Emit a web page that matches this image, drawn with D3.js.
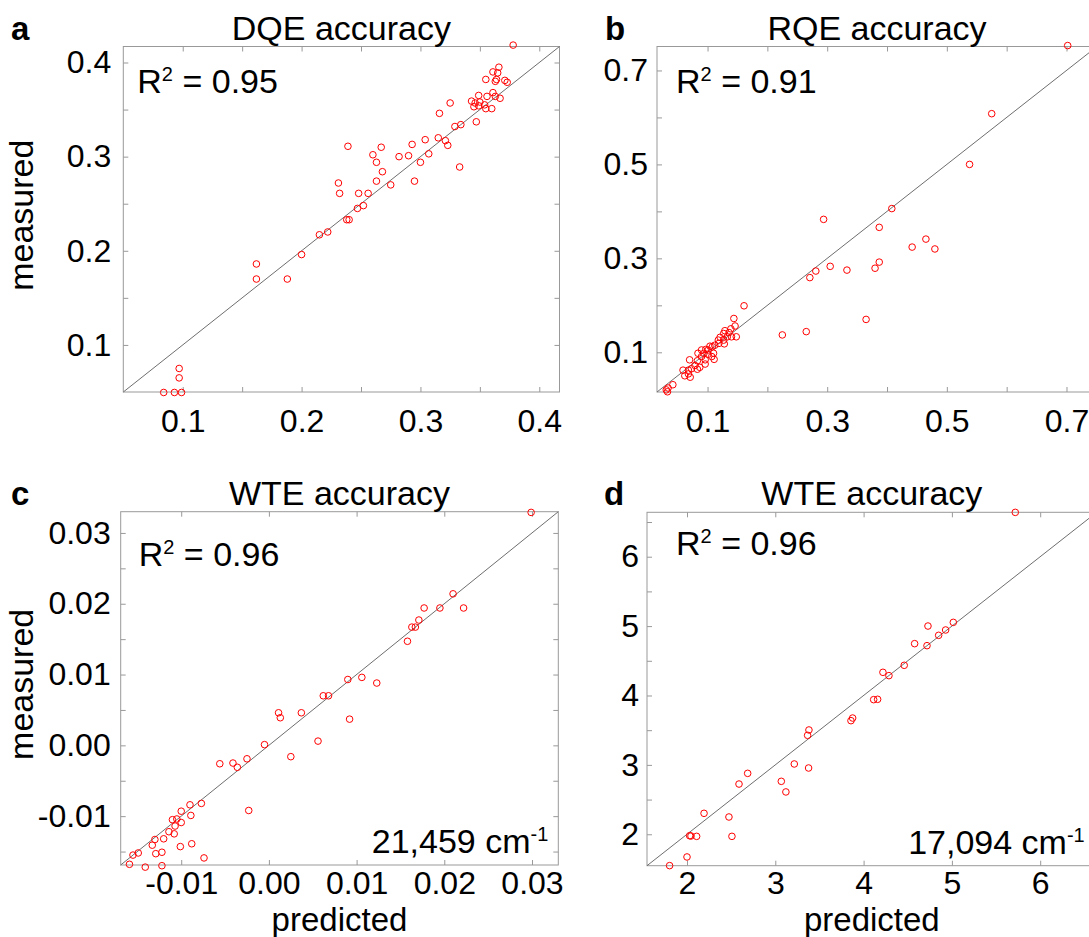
<!DOCTYPE html>
<html>
<head>
<meta charset="utf-8">
<script src="https://cdn.jsdelivr.net/npm/d3@7"></script>
<style>
body { margin: 0; background: #fff; }
svg text { font-family: "Liberation Sans", Arial, sans-serif; fill: #000; }
</style>
</head>
<body>
<div id="dataviz"></div>
<script>
// ---- data ----
// a: DQE
var dqePred = [0.378,0.366,0.361,0.365,0.355,0.363,0.364,0.371,0.373,0.349,0.356,0.361,0.363,0.367,0.343,0.345,0.346,0.350,0.349,0.354,0.355,0.360,0.347,0.325,0.316,0.329,0.334,0.315,0.321,0.323,0.304,0.307,0.293,0.282,0.290,0.300,0.333,0.295,0.275,0.239,0.267,0.260,0.263,0.268,0.263,0.231,0.232,0.248,0.256,0.247,0.252,0.238,0.240,0.215,0.222,0.200,0.162,0.162,0.188,0.097,0.097,0.084,0.093,0.099];
var dqeMeas = [0.4185,0.395,0.390,0.389,0.382,0.380,0.382,0.381,0.379,0.365,0.364,0.368,0.364,0.362,0.359,0.353,0.357,0.358,0.354,0.355,0.351,0.351,0.337,0.357,0.346,0.332,0.334,0.320,0.317,0.312,0.318,0.303,0.313,0.300,0.301,0.294,0.289,0.274,0.270,0.311,0.310,0.302,0.294,0.284,0.274,0.272,0.261,0.261,0.261,0.245,0.248,0.233,0.233,0.217,0.220,0.196,0.186,0.170,0.170,0.075,0.065,0.0495,0.0495,0.0495];
var dqeTicks = [0.1,0.15,0.2,0.25,0.3,0.35,0.4];
var dqeLabels = [0.1,0.2,0.3,0.4];

// b: RQE
var rqePred = [0.702,0.575,0.538,0.408,0.294,0.387,0.465,0.442,0.480,0.387,0.380,0.305,0.333,0.281,0.271,0.365,0.225,0.265,0.161,0.144,0.146,0.139,0.129,0.136,0.127,0.140,0.148,0.133,0.121,0.127,0.118,0.119,0.128,0.112,0.108,0.104,0.097,0.101,0.090,0.084,0.094,0.101,0.110,0.111,0.070,0.090,0.083,0.096,0.079,0.087,0.073,0.068,0.059,0.068,0.062,0.071,0.083,0.096,0.107,0.042,0.034,0.031,0.033];
var rqeMeas = [0.753,0.608,0.500,0.406,0.383,0.366,0.341,0.324,0.320,0.292,0.279,0.283,0.275,0.273,0.259,0.170,0.137,0.144,0.199,0.172,0.156,0.150,0.146,0.142,0.140,0.133,0.133,0.133,0.132,0.126,0.126,0.119,0.118,0.115,0.112,0.113,0.106,0.105,0.105,0.098,0.098,0.096,0.098,0.085,0.084,0.091,0.082,0.075,0.072,0.068,0.065,0.062,0.062,0.054,0.050,0.047,0.064,0.084,0.091,0.031,0.024,0.020,0.016];
var rqeTicks = [0.1,0.2,0.3,0.4,0.5,0.6,0.7];
var rqeLabels = [0.1,0.3,0.5,0.7];

// c: WTE at 21,459 cm-1
var wte1Pred = [0.0299,0.0210,0.0177,0.0195,0.0222,0.0171,0.0163,0.0167,0.0158,0.0090,0.0106,0.0123,0.0062,0.0068,0.0092,0.0056,0.0011,0.0013,0.0037,-0.0005,0.0025,-0.0025,-0.0056,-0.0041,-0.0036,-0.0023,-0.0077,-0.0090,-0.0089,-0.0100,-0.0110,-0.0105,-0.0100,-0.0107,-0.0114,-0.0108,-0.0130,-0.0133,-0.0120,-0.0101,-0.0088,-0.0122,-0.0129,-0.0155,-0.0149,-0.0074,-0.0141,-0.0122,-0.0159];
var wte1Meas = [0.0329,0.0214,0.0194,0.0194,0.0194,0.0177,0.0167,0.0167,0.0147,0.0093,0.0096,0.0088,0.0070,0.0070,0.0037,0.0006,0.0046,0.0039,0.0046,0.0001,-0.0016,-0.0019,-0.0026,-0.0025,-0.0031,-0.0092,-0.0082,-0.0084,-0.0099,-0.0093,-0.0105,-0.0104,-0.0109,-0.0114,-0.0122,-0.0125,-0.0133,-0.0141,-0.0132,-0.0143,-0.0139,-0.0151,-0.0153,-0.0155,-0.0152,-0.0159,-0.0172,-0.0170,-0.0168];
var wte1XTicks = [-0.01,0,0.01,0.02,0.03];
var wte1YTicks = [-0.015,-0.01,-0.005,0,0.005,0.01,0.015,0.02,0.025,0.03];
var wte1Labels = [-0.01,0,0.01,0.02,0.03];

// d: WTE at 17,094 cm-1
var wte2Pred = [5.718,4.729,5.016,4.929,4.850,4.718,4.578,4.460,4.219,4.287,4.114,4.159,3.857,3.876,3.381,3.366,3.377,3.215,3.068,3.120,2.687,2.589,2.193,2.475,2.509,2.030,2.045,2.109,2.000,1.803];
var wte2Meas = [6.639,5.001,5.054,4.944,4.867,4.718,4.747,4.435,4.334,4.286,3.940,3.945,3.637,3.675,3.503,3.426,2.955,3.013,2.763,2.610,2.878,2.724,2.302,2.249,1.970,1.979,1.975,1.970,1.673,1.548];
var wte2XTicks = [2,3,4,5,6];
var wte2YTicks = [2,2.5,3,3.5,4,4.5,5,5.5,6,6.5];
var wte2Labels = [2,3,4,5,6];

var widthFull = 1089, heightFull = 937;
var svg = d3.select("#dataviz").append("svg")
    .attr("width", widthFull)
    .attr("height", heightFull)
    .style("display", "block");

var frameColor = "#999";
var bigFont = "34px", tickFont = "32px";

function fmtFor(labels, fmt) {
    return function(d) {
        var hit = labels.some(function(l) { return Math.abs(l - d) < 1e-9; });
        return hit ? fmt(d).replace("\u2212", "-") : "";
    };
}

function panel(p) {
    var g = svg.append("g").attr("transform", "translate(" + p.left + "," + p.top + ")");
    var x = d3.scaleLinear().domain(p.domain).range([0, p.w]);
    var y = d3.scaleLinear().domain(p.domain).range([p.h, 0]);

    // ticks all round, pointing inward
    var tl = 5;
    g.append("g").attr("class", "ax").attr("transform", "translate(0," + p.h + ")")
        .call(d3.axisBottom(x).tickValues(p.xTicks).tickSizeInner(-tl).tickSizeOuter(0)
            .tickPadding(p.xPad).tickFormat(fmtFor(p.labels, p.fmt)));
    g.append("g").attr("class", "ax")
        .call(d3.axisTop(x).tickValues(p.xTicks).tickSizeInner(-tl).tickSizeOuter(0).tickFormat(""));
    g.append("g").attr("class", "ax")
        .call(d3.axisLeft(y).tickValues(p.yTicks).tickSizeInner(-tl).tickSizeOuter(0)
            .tickPadding(p.yPad).tickFormat(fmtFor(p.labels, p.fmt)));
    g.append("g").attr("class", "ax").attr("transform", "translate(" + p.w + ",0)")
        .call(d3.axisRight(y).tickValues(p.yTicks).tickSizeInner(-tl).tickSizeOuter(0).tickFormat(""));

    g.selectAll(".ax .domain").remove();
    g.selectAll(".ax line").attr("stroke", frameColor).attr("stroke-width", 1);
    g.selectAll(".ax text").style("font-size", tickFont).attr("fill", "#000")
        .style("font-family", "'Liberation Sans', Arial, sans-serif");

    g.append("rect")
        .attr("width", p.w).attr("height", p.h)
        .attr("fill", "none").attr("stroke", frameColor).attr("stroke-width", 1);

    // identity line
    g.append("line")
        .attr("x1", x(p.domain[0])).attr("y1", y(p.domain[0]))
        .attr("x2", x(p.domain[1])).attr("y2", y(p.domain[1]))
        .attr("stroke", "#6e6e6e").attr("stroke-width", 1);

    var pts = p.pred.map(function(v, i) { return { p: v, m: p.meas[i] }; });
    g.selectAll("circle.pt").data(pts).enter().append("circle")
        .attr("class", "pt")
        .attr("cx", function(d) { return x(d.p); })
        .attr("cy", function(d) { return y(d.m); })
        .attr("r", 3.3)
        .attr("fill", "none")
        .attr("stroke", "#ff0000")
        .attr("stroke-width", 1);

    // title
    svg.append("text")
        .attr("x", p.left + p.w / 2).attr("y", p.top - 7)
        .attr("text-anchor", "middle")
        .style("font-size", bigFont)
        .text(p.title);

    // panel letter
    svg.append("text")
        .attr("x", p.letterX).attr("y", p.top - 7)
        .style("font-size", "33px").style("font-weight", "bold")
        .text(p.letter);

    // R^2
    var r = g.append("text").attr("x", p.r2dx).attr("y", p.r2dy).style("font-size", bigFont);
    r.append("tspan").text("R");
    r.append("tspan").attr("dy", -12).style("font-size", "20px").text("2");
    r.append("tspan").attr("dy", 12).text(" = " + p.r2);

    if (p.wave) {
        var t = g.append("text").attr("x", p.w - p.waveInset).attr("y", p.h - 12)
            .attr("text-anchor", "end").style("font-size", bigFont);
        t.append("tspan").text(p.wave + " cm");
        t.append("tspan").attr("dy", -12).style("font-size", "20px").text("-1");
    }

    if (p.ylabel) {
        svg.append("text")
            .attr("transform", "translate(33," + (p.top + p.h / 2 - 4) + ") rotate(-90)")
            .attr("text-anchor", "middle")
            .style("font-size", bigFont)
            .text(p.ylabel);
    }
    if (p.xlabel) {
        svg.append("text")
            .attr("x", p.left + p.w / 2).attr("y", 931)
            .attr("text-anchor", "middle")
            .style("font-size", "33px")
            .text(p.xlabel);
    }
}

panel({
    letter: "a", letterX: 11, title: "DQE accuracy",
    left: 123.3, top: 46.5, w: 436.2, h: 345.5, domain: [0.05, 0.417],
    pred: dqePred, meas: dqeMeas, xTicks: dqeTicks, yTicks: dqeTicks, labels: dqeLabels,
    fmt: d3.format(".1f"), xPad: 17, yPad: 12, r2: "0.95", r2dx: 14, r2dy: 46,
    ylabel: "measured"
});
panel({
    letter: "b", letterX: 605, title: "RQE accuracy",
    left: 657, top: 46.5, w: 440, h: 345.5, domain: [0.0155, 0.751],
    pred: rqePred, meas: rqeMeas, xTicks: rqeTicks, yTicks: rqeTicks, labels: rqeLabels,
    fmt: d3.format(".1f"), xPad: 17, yPad: 9, r2: "0.91", r2dx: 19, r2dy: 46
});
panel({
    letter: "c", letterX: 11, title: "WTE accuracy",
    left: 120.7, top: 511.7, w: 437.6, h: 353.3, domain: [-0.0169, 0.033],
    pred: wte1Pred, meas: wte1Meas, xTicks: wte1XTicks, yTicks: wte1YTicks, labels: wte1Labels,
    fmt: d3.format(".2f"), xPad: 6, yPad: 10, r2: "0.96", r2dx: 18, r2dy: 54,
    wave: "21,459", waveInset: 10, ylabel: "measured", xlabel: "predicted"
});
panel({
    letter: "d", letterX: 604, title: "WTE accuracy",
    left: 647, top: 512.3, w: 449.7, h: 353.4, domain: [1.547, 6.64],
    pred: wte2Pred, meas: wte2Meas, xTicks: wte2XTicks, yTicks: wte2YTicks, labels: wte2Labels,
    fmt: d3.format("d"), xPad: 6, yPad: 8, r2: "0.96", r2dx: 29, r2dy: 43,
    wave: "17,094", waveInset: 12, xlabel: "predicted"
});
</script>
</body>
</html>
